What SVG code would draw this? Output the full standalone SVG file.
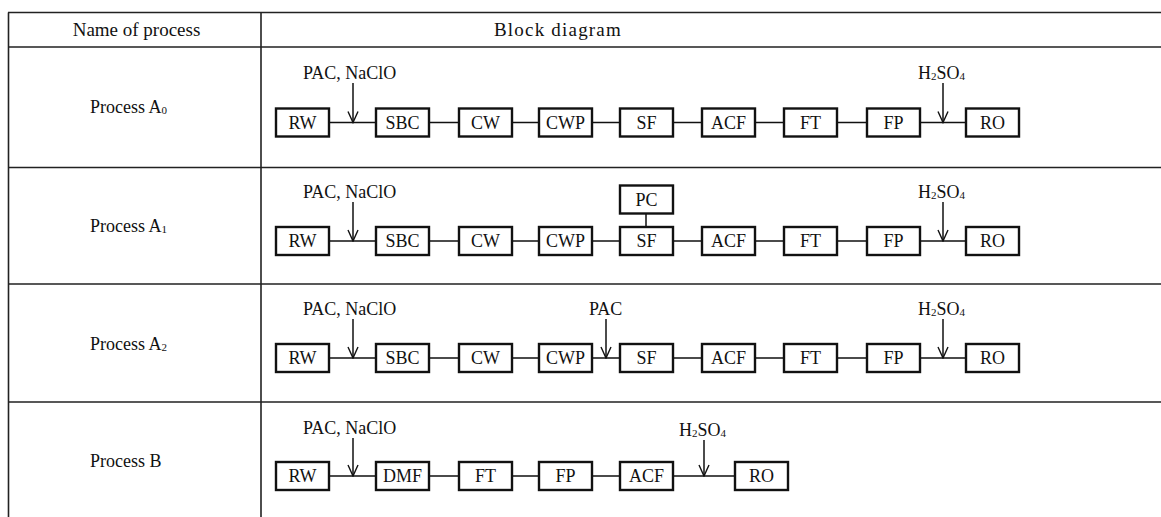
<svg xmlns="http://www.w3.org/2000/svg" width="1161" height="517" viewBox="0 0 1161 517">
<style>
.t{font-family:"Liberation Serif","Times New Roman",serif;font-size:18px;fill:#111}
.h{font-size:19px}
.c{text-anchor:middle}
.box rect{fill:#fff;stroke:#111;stroke-width:2.4}
.ln{stroke:#111;stroke-width:1.5;fill:none}
.arr{stroke:#111;stroke-width:1.5;fill:none;marker-end:url(#ah)}
.grid{stroke:#222;stroke-width:1.6;fill:none}
.sub{font-size:11px}
</style>
<defs>
<marker id="ah" viewBox="-1 -6 13 12" refX="11" refY="0" markerWidth="13" markerHeight="12" markerUnits="userSpaceOnUse" orient="auto">
<path d="M0,-5 L11,0 L0,5" fill="none" stroke="#111" stroke-width="1.4"/>
</marker>
</defs>
<rect width="1161" height="517" fill="#fff"/>

<g id="table">
<path class="grid" d="M8,12.5 H1161 M8,47 H1161 M8,167.5 H1161 M8,284 H1161 M8,402 H1161 M8.5,12.5 V517 M261,12.5 V517"/>
<text class="t h c" x="136.5" y="36">Name of process</text>
<text class="t h" x="494" y="36" letter-spacing="1.2">Block diagram</text>
<text class="t" x="90" y="113">Process A<tspan class="sub" dy="1">0</tspan></text>
<text class="t" x="90" y="232">Process A<tspan class="sub" dy="1">1</tspan></text>
<text class="t" x="90" y="350">Process A<tspan class="sub" dy="1">2</tspan></text>
<text class="t" x="90" y="467">Process B</text>
</g>

<g id="connectors">
<!-- A0 -->
<path class="ln" d="M329,122.5 H376 M429,122.5 H459 M512,122.5 H539 M592,122.5 H620 M673,122.5 H702 M755,122.5 H784 M837,122.5 H867 M920,122.5 H966"/>
<line class="arr" x1="353" y1="83" x2="353" y2="122.5"/>
<line class="arr" x1="943" y1="83" x2="943" y2="122.5"/>
<text class="t" x="303" y="79">PAC, NaClO</text>
<text class="t" x="918" y="79">H<tspan class="sub" dy="1">2</tspan><tspan dy="-1">SO</tspan><tspan class="sub" dy="1">4</tspan></text>
<!-- A1 -->
<path class="ln" d="M329,241 H376 M429,241 H459 M512,241 H539 M592,241 H620 M673,241 H702 M755,241 H784 M837,241 H867 M920,241 H966 M646,213.5 V227"/>
<line class="arr" x1="353" y1="202" x2="353" y2="241"/>
<line class="arr" x1="943" y1="202" x2="943" y2="241"/>
<text class="t" x="303" y="198">PAC, NaClO</text>
<text class="t" x="918" y="198">H<tspan class="sub" dy="1">2</tspan><tspan dy="-1">SO</tspan><tspan class="sub" dy="1">4</tspan></text>
<!-- A2 -->
<path class="ln" d="M329,358 H376 M429,358 H459 M512,358 H539 M592,358 H620 M673,358 H702 M755,358 H784 M837,358 H867 M920,358 H966"/>
<line class="arr" x1="353" y1="319" x2="353" y2="358"/>
<line class="arr" x1="606" y1="319" x2="606" y2="358"/>
<line class="arr" x1="943" y1="319" x2="943" y2="358"/>
<text class="t" x="303" y="315">PAC, NaClO</text>
<text class="t" x="589" y="315">PAC</text>
<text class="t" x="918" y="315">H<tspan class="sub" dy="1">2</tspan><tspan dy="-1">SO</tspan><tspan class="sub" dy="1">4</tspan></text>
<!-- B -->
<path class="ln" d="M329,476 H376 M429,476 H459 M512,476 H539 M592,476 H620 M673,476 H735"/>
<line class="arr" x1="353" y1="438" x2="353" y2="476"/>
<line class="arr" x1="704" y1="440" x2="704" y2="476"/>
<text class="t" x="303" y="434">PAC, NaClO</text>
<text class="t" x="679" y="436">H<tspan class="sub" dy="1">2</tspan><tspan dy="-1">SO</tspan><tspan class="sub" dy="1">4</tspan></text>
</g>

<!-- Row A0 nodes -->
<g id="a0-rw" class="box"><rect x="276" y="108.5" width="53" height="28"/><text class="t c" x="302.5" y="128.5">RW</text></g>
<g id="a0-sbc" class="box"><rect x="376" y="108.5" width="53" height="28"/><text class="t c" x="402.5" y="128.5">SBC</text></g>
<g id="a0-cw" class="box"><rect x="459" y="108.5" width="53" height="28"/><text class="t c" x="485.5" y="128.5">CW</text></g>
<g id="a0-cwp" class="box"><rect x="539" y="108.5" width="53" height="28"/><text class="t c" x="565.5" y="128.5">CWP</text></g>
<g id="a0-sf" class="box"><rect x="620" y="108.5" width="53" height="28"/><text class="t c" x="646.5" y="128.5">SF</text></g>
<g id="a0-acf" class="box"><rect x="702" y="108.5" width="53" height="28"/><text class="t c" x="728.5" y="128.5">ACF</text></g>
<g id="a0-ft" class="box"><rect x="784" y="108.5" width="53" height="28"/><text class="t c" x="810.5" y="128.5">FT</text></g>
<g id="a0-fp" class="box"><rect x="867" y="108.5" width="53" height="28"/><text class="t c" x="893.5" y="128.5">FP</text></g>
<g id="a0-ro" class="box"><rect x="966" y="108.5" width="53" height="28"/><text class="t c" x="992.5" y="128.5">RO</text></g>

<!-- Row A1 nodes -->
<g id="a1-rw" class="box"><rect x="276" y="227" width="53" height="28"/><text class="t c" x="302.5" y="247">RW</text></g>
<g id="a1-sbc" class="box"><rect x="376" y="227" width="53" height="28"/><text class="t c" x="402.5" y="247">SBC</text></g>
<g id="a1-cw" class="box"><rect x="459" y="227" width="53" height="28"/><text class="t c" x="485.5" y="247">CW</text></g>
<g id="a1-cwp" class="box"><rect x="539" y="227" width="53" height="28"/><text class="t c" x="565.5" y="247">CWP</text></g>
<g id="a1-pc" class="box"><rect x="620" y="185.5" width="53" height="28"/><text class="t c" x="646.5" y="205.5">PC</text></g>
<g id="a1-sf" class="box"><rect x="620" y="227" width="53" height="28"/><text class="t c" x="646.5" y="247">SF</text></g>
<g id="a1-acf" class="box"><rect x="702" y="227" width="53" height="28"/><text class="t c" x="728.5" y="247">ACF</text></g>
<g id="a1-ft" class="box"><rect x="784" y="227" width="53" height="28"/><text class="t c" x="810.5" y="247">FT</text></g>
<g id="a1-fp" class="box"><rect x="867" y="227" width="53" height="28"/><text class="t c" x="893.5" y="247">FP</text></g>
<g id="a1-ro" class="box"><rect x="966" y="227" width="53" height="28"/><text class="t c" x="992.5" y="247">RO</text></g>

<!-- Row A2 nodes -->
<g id="a2-rw" class="box"><rect x="276" y="344" width="53" height="28"/><text class="t c" x="302.5" y="364">RW</text></g>
<g id="a2-sbc" class="box"><rect x="376" y="344" width="53" height="28"/><text class="t c" x="402.5" y="364">SBC</text></g>
<g id="a2-cw" class="box"><rect x="459" y="344" width="53" height="28"/><text class="t c" x="485.5" y="364">CW</text></g>
<g id="a2-cwp" class="box"><rect x="539" y="344" width="53" height="28"/><text class="t c" x="565.5" y="364">CWP</text></g>
<g id="a2-sf" class="box"><rect x="620" y="344" width="53" height="28"/><text class="t c" x="646.5" y="364">SF</text></g>
<g id="a2-acf" class="box"><rect x="702" y="344" width="53" height="28"/><text class="t c" x="728.5" y="364">ACF</text></g>
<g id="a2-ft" class="box"><rect x="784" y="344" width="53" height="28"/><text class="t c" x="810.5" y="364">FT</text></g>
<g id="a2-fp" class="box"><rect x="867" y="344" width="53" height="28"/><text class="t c" x="893.5" y="364">FP</text></g>
<g id="a2-ro" class="box"><rect x="966" y="344" width="53" height="28"/><text class="t c" x="992.5" y="364">RO</text></g>

<!-- Row B nodes -->
<g id="b-rw" class="box"><rect x="276" y="462" width="53" height="28"/><text class="t c" x="302.5" y="482">RW</text></g>
<g id="b-dmf" class="box"><rect x="376" y="462" width="53" height="28"/><text class="t c" x="402.5" y="482">DMF</text></g>
<g id="b-ft" class="box"><rect x="459" y="462" width="53" height="28"/><text class="t c" x="485.5" y="482">FT</text></g>
<g id="b-fp" class="box"><rect x="539" y="462" width="53" height="28"/><text class="t c" x="565.5" y="482">FP</text></g>
<g id="b-acf" class="box"><rect x="620" y="462" width="53" height="28"/><text class="t c" x="646.5" y="482">ACF</text></g>
<g id="b-ro" class="box"><rect x="735" y="462" width="53" height="28"/><text class="t c" x="761.5" y="482">RO</text></g>
</svg>
